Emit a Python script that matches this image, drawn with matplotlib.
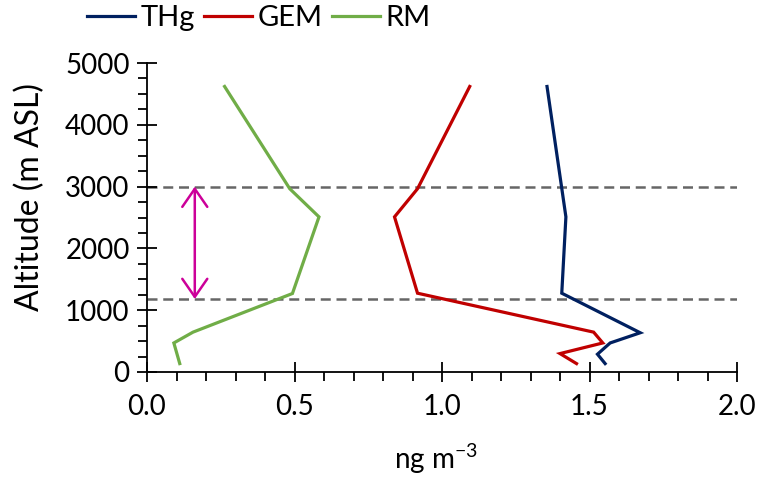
import matplotlib
matplotlib.use("Agg")
import matplotlib.pyplot as plt
from matplotlib.ticker import MultipleLocator, FormatStrFormatter

# Vertical profiles of mercury species (ng m-3) against altitude (m ASL)
thg_alt = [4620, 2510, 1275, 635, 470, 288, 136]
thg_val = [1.356, 1.420, 1.406, 1.672, 1.570, 1.527, 1.553]

gem_alt = [4620, 2965, 2510, 1275, 645, 470, 298, 136]
gem_val = [1.094, 0.917, 0.839, 0.917, 1.514, 1.545, 1.400, 1.456]

rm_alt = [4620, 2965, 2510, 1270, 645, 470, 136]
rm_val = [0.263, 0.484, 0.583, 0.493, 0.156, 0.091, 0.111]

layer_bounds = [3000, 1180]
arrow_x = 0.162

plt.rcParams['font.family'] = ['Lato', 'DejaVu Sans']

W, H = 759, 480
fig = plt.figure(figsize=(W / 100, H / 100), dpi=100)
ax = fig.add_axes([147 / W, 1 - 372 / H, 590 / W, 309 / H])

ax.plot(thg_val, thg_alt, color='#002060', lw=2.3, label='THg', solid_joinstyle='miter')
ax.plot(gem_val, gem_alt, color='#C00000', lw=2.3, label='GEM', solid_joinstyle='miter')
ax.plot(rm_val, rm_alt, color='#70AD47', lw=2.3, label='RM', solid_joinstyle='miter')

for yb in layer_bounds:
    ax.axhline(yb, color='#666666', lw=1.8, dashes=(4, 2.3), zorder=1)

ax.annotate('', xy=(arrow_x, layer_bounds[0]), xytext=(arrow_x, layer_bounds[1]),
            arrowprops=dict(arrowstyle='<->,head_length=0.65,head_width=0.45',
                            color='#CC0099', lw=1.8, mutation_scale=20,
                            shrinkA=0, shrinkB=0))

ax.set_xlim(0, 2.0)
ax.set_ylim(0, 5000)
ax.xaxis.set_major_locator(MultipleLocator(0.5))
ax.xaxis.set_minor_locator(MultipleLocator(0.1))
ax.xaxis.set_major_formatter(FormatStrFormatter('%.1f'))
ax.yaxis.set_major_locator(MultipleLocator(1000))
ax.yaxis.set_minor_locator(MultipleLocator(250))

for s in ('top', 'right'):
    ax.spines[s].set_visible(False)
for s in ('left', 'bottom'):
    ax.spines[s].set_linewidth(1.3)
    ax.spines[s].set_color('black')

ax.tick_params(which='major', direction='inout', length=15, width=1.3,
               labelsize=20, colors='black')
ax.tick_params(which='minor', direction='out', length=6.5, width=1.3, colors='black')
ax.tick_params(axis='x', which='major', pad=8)
ax.tick_params(axis='y', which='major', pad=5)

ax.set_xlabel('ng m$^{\\mathregular{-3}}$', fontsize=20)
ax.xaxis.set_label_coords(0.49, -0.225)
ax.set_ylabel('Altitude (m ASL)', fontsize=23)
ax.yaxis.set_label_coords(-0.172, 0.565)

# Legend row across the top; its left edge starts at x = 87 px
leg_left, leg_top = 87, 5
leg = fig.legend(loc='upper left', bbox_to_anchor=(leg_left / W, 1 - leg_top / H),
                 ncol=3, frameon=False, fontsize=21, handlelength=1.65,
                 handletextpad=0.2, columnspacing=0.3, borderpad=0, borderaxespad=0)
fig.canvas.draw()
bb = leg.get_window_extent()
dx = leg_left - bb.x0
dy = (H - leg_top) - bb.y1
leg.set_bbox_to_anchor(((leg_left + dx) / W, (H - leg_top + dy) / H), transform=fig.transFigure)

fig.savefig('out.png', dpi=100)
